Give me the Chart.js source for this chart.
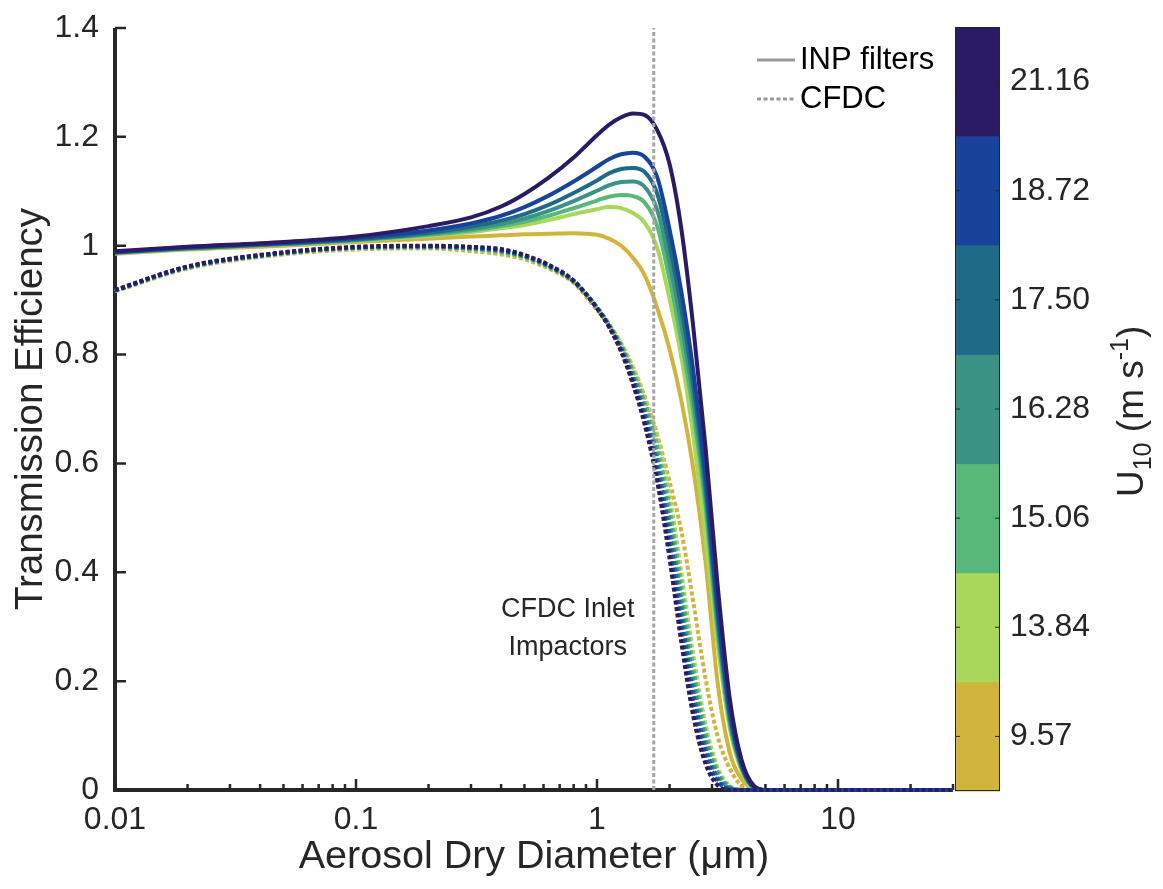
<!DOCTYPE html>
<html>
<head>
<meta charset="utf-8">
<script src="https://cdn.jsdelivr.net/npm/chart.js@4.4.1/dist/chart.umd.min.js"></script>
<style>
  html, body { margin: 0; padding: 0; background: #fff; }
  #wrap { width: 1163px; height: 889px; position: relative; }
</style>
</head>
<body>
<div id="wrap"><canvas id="transmission"></canvas></div>
<script>
// aerosol dry diameter (um), shared by every curve
const diameters = [0.01, 0.02, 0.05, 0.1, 0.2, 0.3, 0.4, 0.5, 0.63, 0.8, 1.0, 1.12, 1.26, 1.41,
  1.58, 1.78, 2.0, 2.24, 2.51, 2.82, 3.16, 3.55, 3.98, 4.47, 5, 10, 30];

// INP filter inlet transmission (solid lines), one array per U10 bin
const inp957  = [0.985, 0.993, 1.000, 1.007, 1.013, 1.017, 1.019, 1.021, 1.022, 1.023, 1.020, 1.013, 1.000, 0.978, 0.945, 0.885, 0.810, 0.715, 0.590, 0.420, 0.200, 0.070, 0.020, 0.003, 0, 0, 0];
const inp1384 = [0.986, 0.994, 1.002, 1.009, 1.018, 1.025, 1.032, 1.038, 1.047, 1.058, 1.067, 1.071, 1.069, 1.060, 1.042, 0.995, 0.902, 0.795, 0.650, 0.460, 0.270, 0.115, 0.035, 0.003, 0, 0, 0];
const inp1506 = [0.987, 0.995, 1.003, 1.010, 1.020, 1.028, 1.036, 1.044, 1.055, 1.069, 1.083, 1.090, 1.093, 1.091, 1.079, 1.035, 0.938, 0.825, 0.695, 0.520, 0.295, 0.125, 0.040, 0.004, 0, 0, 0];
const inp1628 = [0.987, 0.995, 1.003, 1.011, 1.022, 1.031, 1.040, 1.050, 1.064, 1.082, 1.101, 1.111, 1.117, 1.118, 1.108, 1.065, 0.968, 0.855, 0.720, 0.540, 0.310, 0.130, 0.042, 0.005, 0, 0, 0];
const inp1750 = [0.988, 0.996, 1.004, 1.012, 1.024, 1.035, 1.046, 1.058, 1.075, 1.097, 1.120, 1.133, 1.141, 1.143, 1.135, 1.095, 1.000, 0.885, 0.745, 0.560, 0.325, 0.140, 0.045, 0.005, 0, 0, 0];
const inp1872 = [0.988, 0.997, 1.005, 1.014, 1.028, 1.041, 1.055, 1.071, 1.092, 1.118, 1.145, 1.159, 1.168, 1.171, 1.163, 1.125, 1.030, 0.915, 0.770, 0.580, 0.340, 0.150, 0.048, 0.006, 0, 0, 0];
const inp2116 = [0.990, 0.998, 1.007, 1.017, 1.036, 1.052, 1.072, 1.095, 1.125, 1.162, 1.203, 1.222, 1.236, 1.243, 1.240, 1.212, 1.150, 1.030, 0.850, 0.630, 0.380, 0.170, 0.055, 0.008, 0, 0, 0];

// CFDC inlet transmission (dotted lines)
const cfdc957  = [0.916, 0.958, 0.984, 0.993, 0.995, 0.990, 0.984, 0.975, 0.958, 0.932, 0.882, 0.855, 0.820, 0.777, 0.722, 0.652, 0.567, 0.475, 0.345, 0.205, 0.100, 0.040, 0.008, 0, 0, 0, 0];
const cfdc1384 = [0.917, 0.959, 0.985, 0.995, 0.997, 0.993, 0.987, 0.978, 0.960, 0.933, 0.887, 0.857, 0.820, 0.775, 0.720, 0.646, 0.542, 0.399, 0.248, 0.121, 0.042, 0.008, 0.001, 0, 0, 0, 0];
const cfdc1506 = [0.917, 0.960, 0.986, 0.996, 0.997, 0.994, 0.988, 0.979, 0.961, 0.934, 0.887, 0.856, 0.817, 0.769, 0.710, 0.630, 0.518, 0.373, 0.225, 0.106, 0.035, 0.006, 0, 0, 0, 0, 0];
const cfdc1628 = [0.918, 0.960, 0.986, 0.996, 0.998, 0.995, 0.990, 0.980, 0.962, 0.934, 0.886, 0.854, 0.814, 0.763, 0.700, 0.613, 0.495, 0.348, 0.203, 0.092, 0.029, 0.005, 0, 0, 0, 0, 0];
const cfdc1750 = [0.918, 0.961, 0.987, 0.997, 0.999, 0.996, 0.991, 0.981, 0.963, 0.935, 0.886, 0.853, 0.811, 0.757, 0.690, 0.597, 0.472, 0.322, 0.180, 0.077, 0.022, 0.003, 0, 0, 0, 0, 0];
const cfdc1872 = [0.918, 0.961, 0.987, 0.997, 0.999, 0.997, 0.992, 0.982, 0.964, 0.935, 0.885, 0.852, 0.808, 0.751, 0.680, 0.581, 0.448, 0.296, 0.158, 0.063, 0.016, 0.002, 0, 0, 0, 0, 0];
const cfdc2116 = [0.919, 0.962, 0.988, 0.998, 1.000, 0.998, 0.994, 0.983, 0.965, 0.936, 0.885, 0.851, 0.805, 0.745, 0.670, 0.565, 0.425, 0.270, 0.135, 0.048, 0.009, 0, 0, 0, 0, 0, 0];

// U10 bins (m s-1), lowest first
const windLabels = ['9.57', '13.84', '15.06', '16.28', '17.50', '18.72', '21.16'];
const windColours = ['#d0b43c', '#a8d75c', '#58b879', '#3b9386', '#1f6a87', '#17449a', '#2b1b64'];

const impactorCut = 1.72;   // CFDC inlet impactor cut size
const xTickValues = [0.01, 0.1, 1, 10];
const xTickLabels = ['0.01', '0.1', '1', '10'];
const yTickValues = [0, 0.2, 0.4, 0.6, 0.8, 1, 1.2, 1.4];
const yTickLabels = ['0', '0.2', '0.4', '0.6', '0.8', '1', '1.2', '1.4'];
const legendLabels = ['INP filters', 'CFDC'];

const inpSeries = [inp957, inp1384, inp1506, inp1628, inp1750, inp1872, inp2116];
const cfdcSeries = [cfdc957, cfdc1384, cfdc1506, cfdc1628, cfdc1750, cfdc1872, cfdc2116];

const FONT = '"Liberation Sans", Arial, Helvetica, sans-serif';
const INK = '#262626';

const toPoints = vals => diameters.map((d, i) => ({ x: d, y: vals[i] }));

const datasets = [{
  label: 'impactor',
  data: [{ x: impactorCut, y: 0 }, { x: impactorCut, y: 1.4 }],
  borderColor: '#a6a6a6',
  borderWidth: 3,
  borderDash: [4, 2.5],
  pointRadius: 0,
  order: 0
}];

cfdcSeries.forEach((vals, i) => {
  datasets.push({
    label: 'CFDC ' + windLabels[i],
    data: toPoints(vals),
    borderColor: windColours[i],
    borderWidth: 4,
    borderDash: [4, 2.5],
    pointRadius: 0,
    cubicInterpolationMode: 'monotone',
    clip: false,
    order: 8 - i
  });
});

inpSeries.forEach((vals, i) => {
  datasets.push({
    label: 'INP ' + windLabels[i],
    data: toPoints(vals),
    borderColor: windColours[i],
    borderWidth: 4,
    borderJoinStyle: 'round',
    pointRadius: 0,
    cubicInterpolationMode: 'monotone',
    clip: false,
    order: 16 - i
  });
});

const xMinorTicks = [];
[0.01, 0.1, 1, 10].forEach(dec => {
  for (let m = 2; m <= 9; m++) if (dec * m <= 30) xMinorTicks.push(dec * m);
});

const figureDecor = {
  id: 'figureDecor',
  beforeDatasetsDraw(chart) {
    const { ctx, chartArea: a, scales: { x, y } } = chart;
    ctx.save();
    ctx.strokeStyle = INK;
    ctx.lineWidth = 4;
    ctx.beginPath();
    ctx.moveTo(a.left, a.top);
    ctx.lineTo(a.left, a.bottom);
    ctx.lineTo(a.right, a.bottom);
    ctx.stroke();

    ctx.lineWidth = 2.5;
    ctx.beginPath();
    yTickValues.forEach(v => {
      const py = y.getPixelForValue(v);
      ctx.moveTo(a.left, py);
      ctx.lineTo(a.left + 11, py);
    });
    xTickValues.forEach(v => {
      const px = x.getPixelForValue(v);
      ctx.moveTo(px, a.bottom);
      ctx.lineTo(px, a.bottom - 11);
    });
    xMinorTicks.forEach(v => {
      const px = x.getPixelForValue(v);
      ctx.moveTo(px, a.bottom);
      ctx.lineTo(px, a.bottom - 6);
    });
    ctx.stroke();
    ctx.restore();
  },
  afterDraw(chart) {
    const { ctx, chartArea: a, scales: { x, y } } = chart;
    ctx.save();

    // legend
    const lx = a.right - 196;
    const rows = [a.top + 32, a.top + 71];
    ctx.strokeStyle = '#999999';
    ctx.lineWidth = 3;
    legendLabels.forEach((txt, i) => {
      ctx.setLineDash(i === 0 ? [] : [4, 2.5]);
      ctx.beginPath();
      ctx.moveTo(lx, rows[i]);
      ctx.lineTo(lx + 38, rows[i]);
      ctx.stroke();
      ctx.setLineDash([]);
      ctx.fillStyle = '#000';
      ctx.font = '31px ' + FONT;
      ctx.textAlign = 'left';
      ctx.textBaseline = 'middle';
      ctx.fillText(txt, lx + 43, rows[i]);
    });

    // impactor annotation
    const cx = x.getPixelForValue(impactorCut) - 86;
    ctx.fillStyle = INK;
    ctx.font = '27px ' + FONT;
    ctx.textAlign = 'center';
    ctx.fillText('CFDC Inlet', cx, y.getPixelForValue(0.331));
    ctx.fillText('Impactors', cx, y.getPixelForValue(0.262));

    // colour bar
    const cbL = a.right + 2, cbR = cbL + 45;
    const cbT = a.top - 1, cbB = a.bottom + 1;
    const binH = (cbB - cbT) / windColours.length;
    windColours.forEach((c, i) => {
      ctx.fillStyle = c;
      ctx.fillRect(cbL, cbB - (i + 1) * binH, cbR - cbL, binH + 0.5);
    });
    ctx.strokeStyle = INK;
    ctx.lineWidth = 1;
    ctx.strokeRect(cbL + 0.5, cbT + 0.5, cbR - cbL - 1, cbB - cbT - 1);
    ctx.beginPath();
    windLabels.forEach((lab, i) => {
      const py = cbB - (i + 0.5) * binH;
      ctx.moveTo(cbL, py); ctx.lineTo(cbL + 5, py);
      ctx.moveTo(cbR, py); ctx.lineTo(cbR - 5, py);
    });
    ctx.stroke();
    ctx.fillStyle = INK;
    ctx.font = '32px ' + FONT;
    ctx.textAlign = 'left';
    ctx.textBaseline = 'middle';
    windLabels.forEach((lab, i) => {
      ctx.fillText(lab, cbR + 10, cbB - (i + 0.5) * binH);
    });

    // colour bar title: U10 (m s-1)
    ctx.translate(cbR + 143, (cbT + cbB) / 2 + 88);
    ctx.rotate(-Math.PI / 2);
    ctx.textBaseline = 'alphabetic';
    let pos = 0;
    const part = (txt, size, dy) => {
      ctx.font = size + 'px ' + FONT;
      ctx.fillText(txt, pos, dy);
      pos += ctx.measureText(txt).width;
    };
    part('U', 37, 0);
    part('10', 25, 8);
    part(' (m s', 37, 0);
    part('-1', 25, -15);
    part(')', 37, 0);
    ctx.restore();
  }
};

new Chart(document.getElementById('transmission'), {
  type: 'line',
  data: { datasets },
  options: {
    responsive: true,
    maintainAspectRatio: false,
    animation: false,
    events: [],
    layout: { padding: { left: 0, right: 210, top: 28, bottom: 0 } },
    plugins: { legend: { display: false }, tooltip: { enabled: false } },
    scales: {
      x: {
        type: 'logarithmic',
        min: 0.01,
        max: 30,
        grid: { display: false, drawTicks: false },
        border: { display: false },
        afterBuildTicks: s => { s.ticks = xTickValues.map(v => ({ value: v })); },
        afterFit: s => { s.height = 99; },
        ticks: {
          autoSkip: false,
          maxRotation: 0,
          padding: 11,
          color: INK,
          font: { family: FONT, size: 32, lineHeight: 1.2 },
          callback: (v, i) => xTickLabels[i]
        },
        title: {
          display: true,
          text: 'Aerosol Dry Diameter (\u03bcm)',
          color: INK,
          font: { family: FONT, size: 39.5, lineHeight: 1.2 },
          padding: { top: 0, bottom: 8 }
        }
      },
      y: {
        type: 'linear',
        min: 0,
        max: 1.4,
        grid: { display: false, drawTicks: false },
        border: { display: false },
        afterBuildTicks: s => { s.ticks = yTickValues.map(v => ({ value: v })); },
        afterFit: s => { s.width = 115; s.paddingTop = 0; s.paddingBottom = 0; },
        ticks: {
          padding: 16,
          color: INK,
          font: { family: FONT, size: 32, lineHeight: 1.2 },
          callback: (v, i) => yTickLabels[i]
        },
        title: {
          display: true,
          text: 'Transmission Efficiency',
          color: INK,
          font: { family: FONT, size: 38.5, lineHeight: 1.2 },
          padding: { top: 8, bottom: 0 }
        }
      }
    }
  },
  plugins: [figureDecor]
});
</script>
</body>
</html>
